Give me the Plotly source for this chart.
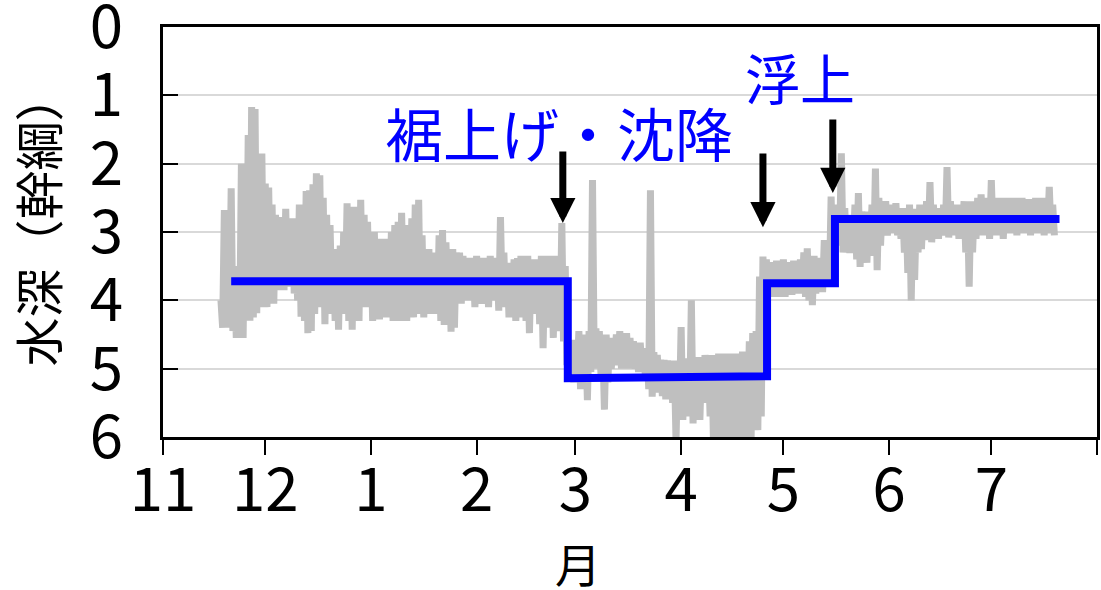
import pandas as pd
import plotly.graph_objects as go

# ---- data ----
season_start = "2023-11-01"
first_day = 17  # days after season start of first sample

# daily shallowest depth (upper envelope) and deepest depth (lower envelope)
depth_hi = [
    4.0, 2.68, 3.6, 2.36, 3.6, 3.5, 2.0, 2.4, 1.58, 1.17,
    1.2, 2.0, 1.85, 2.29, 2.35, 2.6, 2.75, 2.78, 2.95, 2.66,
    2.9, 2.8, 3.3, 2.6, 2.9, 2.4, 2.39, 2.3, 2.14, 2.17,
    2.5, 2.75, 2.9, 3.25, 3.26, 3.2, 3.0, 2.58, 2.8, 2.63,
    2.8, 2.53, 2.75, 2.85, 3.05, 3.0, 3.1, 3.28, 3.1, 3.15,
    3.0, 2.9, 2.85, 2.72, 2.9, 3.0, 2.8, 2.6, 2.53, 3.05,
    3.35, 3.25, 3.3, 3.3, 3.05, 2.97, 3.15, 3.3, 3.25, 3.3,
    3.3, 3.35, 3.4, 3.38, 3.4, 3.35, 3.4, 3.38, 3.4, 3.35,
    3.38, 3.4, 2.78, 3.3, 3.45, 3.5, 3.4, 3.38, 3.35, 3.4,
    3.35, 3.4, 3.45, 3.4, 3.35, 3.4, 3.35, 3.38, 3.35, 3.45,
    2.87, 3.5, 4.58, 4.6, 4.58, 4.45, 4.5, 4.55, 4.45, 2.24,
    4.41, 4.45, 4.6, 4.5, 4.55, 4.65, 4.5, 4.45, 4.5, 4.48,
    4.55, 4.6, 4.65, 4.62, 4.7, 4.75, 2.39, 4.76, 4.8, 4.87,
    4.87, 4.88, 4.9, 4.88, 4.9, 4.39, 4.85, 4.88, 4.0, 4.85,
    4.83, 4.85, 4.8, 4.82, 4.8, 4.85, 4.78, 4.8, 4.78, 4.8,
    4.78, 4.8, 4.78, 4.75, 4.78, 4.6, 4.48, 4.45, 3.65, 3.36,
    3.4, 3.44, 3.45, 3.42, 3.45, 3.4, 3.44, 3.46, 3.42, 3.45,
    3.4, 3.3, 3.24, 3.4, 3.35, 3.38, 3.4, 3.12, 3.3, 2.48,
    2.6, 2.7, 1.85, 2.65, 2.75, 2.8, 2.6, 2.43, 2.7, 2.75,
    2.7, 2.6, 2.07, 2.5, 2.6, 2.55, 2.65, 2.6, 2.58, 2.7,
    2.65, 2.7, 2.6, 2.66, 2.7, 2.6, 2.65, 2.55, 2.27, 2.6,
    2.68, 2.65, 2.6, 2.05, 2.55, 2.6, 2.63, 2.6, 2.55, 2.6,
    2.55, 2.6, 2.5, 2.45, 2.5, 2.55, 2.24, 2.5, 2.55, 2.5,
    2.55, 2.5, 2.55, 2.5, 2.55, 2.5, 2.55, 2.52, 2.55, 2.5,
    2.55, 2.5, 2.55, 2.34, 2.6,
]
depth_lo = [
    4.4, 4.4, 4.35, 4.45, 4.55, 4.5, 4.55, 4.2, 4.3, 4.25,
    4.19, 4.1, 4.0, 4.1, 3.9, 4.05, 3.8, 3.85, 3.85, 3.75,
    3.8, 3.9, 4.0, 4.24, 4.3, 4.48, 4.45, 4.2, 4.0, 4.1,
    4.35, 4.2, 3.95, 4.3, 4.43, 4.2, 3.95, 4.3, 4.43, 4.25,
    4.3, 3.95, 4.1, 3.9, 4.3, 3.95, 4.28, 3.9, 4.25, 3.95,
    4.3, 3.9, 4.3, 3.95, 4.3, 3.9, 4.25, 3.95, 4.2, 4.25,
    3.9, 4.2, 3.95, 4.2, 4.3, 4.36, 3.95, 4.46, 4.4, 3.95,
    4.05, 3.9, 4.0, 3.9, 4.1, 3.95, 4.05, 3.9, 4.1, 3.95,
    4.0, 4.15, 3.95, 4.1, 4.25, 3.95, 4.3, 4.25, 3.95, 4.3,
    4.48, 4.0, 4.2, 4.35, 4.7, 4.0, 4.4, 4.55, 4.0, 4.45,
    4.6, 4.95, 5.07, 5.2, 5.1, 5.3, 5.25, 5.46, 5.05, 4.9,
    5.0, 5.1, 5.6, 5.2, 5.0, 4.95, 4.95, 5.0, 4.95, 5.0,
    4.95, 5.0, 5.05, 5.0, 5.1, 5.3, 5.41, 5.35, 5.2, 5.4,
    5.45, 5.35, 5.5, 6.05, 5.6, 5.75, 5.7, 5.6, 5.8, 5.65,
    5.75, 5.5, 5.45, 5.7, 6.1, 6.2, 6.3, 6.1, 6.2, 6.0,
    6.3, 6.1, 6.2, 6.0, 5.9, 6.1, 5.85, 5.9, 5.7, 4.0,
    3.95, 3.95, 3.9, 3.95, 3.9, 3.95, 3.9, 3.92, 3.9, 3.85,
    3.9, 3.95, 4.0, 4.07, 3.9, 3.85, 3.88, 3.8, 3.75, 3.6,
    3.2, 3.15, 3.3, 3.25, 3.31, 3.2, 3.4, 3.51, 3.3, 3.45,
    3.2, 3.35, 3.56, 3.2, 3.0, 3.05, 3.0, 3.02, 3.05, 3.1,
    3.3, 3.6, 4.0, 3.7, 3.3, 3.25, 3.1, 3.12, 3.15, 3.05,
    3.1, 3.05, 3.02, 3.08, 3.05, 3.0, 3.1, 3.0, 3.3, 3.8,
    3.3, 3.1, 3.0, 3.05, 3.0, 3.1, 3.05, 3.0, 3.05, 3.1,
    3.0, 3.02, 3.0, 3.05, 3.0, 3.02, 3.0, 3.05, 3.0, 3.02,
    3.0, 3.05, 3.0, 3.02, 3.05,
]

# stepwise mean depth of the main line
step_dates = ["2023-11-21 00:00", "2024-02-27 18:00", "2024-02-27 18:00", "2024-04-26 05:00",
              "2024-04-26 05:00", "2024-05-16 03:00", "2024-05-16 03:00", "2024-07-21 00:00"]
step_depths = [3.72, 3.72, 5.14, 5.11, 3.75, 3.75, 2.81, 2.81]

# event arrows: date, tip depth, tail depth
arrow_dates = ["2024-02-26 07:00", "2024-04-25 00:00", "2024-05-15 12:00"]
arrow_tips = [2.87, 2.93, 2.43]
arrow_tails = [1.80, 1.83, 1.33]

# labels
label_texts = ["裾上げ・沈降", "浮上"]
label_dates = ["2024-02-25 06:00", "2024-05-06 00:00"]
label_depths = [1.53, 0.72]
label_sizes = [58, 55]

tick_dates = ["2023-11-01", "2023-12-01", "2024-01-01", "2024-02-01", "2024-03-01",
              "2024-04-01", "2024-05-01", "2024-06-01", "2024-07-01", "2024-08-01"]
tick_text = ["11", "12", "1", "2", "3", "4", "5", "6", "7", ""]
y_ticks = [0, 1, 2, 3, 4, 5, 6]

# ---- build series ----
base = pd.Timestamp(season_start)
times, depths = [], []
for i, (h, l) in enumerate(zip(depth_hi, depth_lo)):
    d = base + pd.Timedelta(days=first_day + i)
    times.append(d.strftime("%Y-%m-%d %H:%M"))
    depths.append(h)
    times.append((d + pd.Timedelta(hours=12)).strftime("%Y-%m-%d %H:%M"))
    depths.append(l)

FONT = "Noto Sans CJK JP"

fig = go.Figure()
fig.add_trace(go.Scatter(x=times, y=depths, mode="lines",
                         line=dict(color="#bfbfbf", width=7), hoverinfo="skip"))
fig.add_trace(go.Scatter(x=step_dates, y=step_depths, mode="lines",
                         line=dict(color="#0000ff", width=8)))

for d, t, a in zip(arrow_dates, arrow_tips, arrow_tails):
    fig.add_annotation(x=d, y=t, ax=d, ay=a, axref="x", ayref="y", xref="x", yref="y",
                       text="", showarrow=True, arrowhead=2, arrowwidth=7,
                       arrowsize=0.72, arrowcolor="black")

for txt, d, y, s in zip(label_texts, label_dates, label_depths, label_sizes):
    fig.add_annotation(x=d, y=y, xref="x", yref="y", text=txt, showarrow=False,
                       xanchor="center", yanchor="middle",
                       font=dict(family=FONT, size=s, color="#0000ff"))

fig.add_annotation(x=0.444, y=-0.305, xref="paper", yref="paper", text="月",
                   xanchor="center", yanchor="middle",
                   showarrow=False, font=dict(family=FONT, size=46, color="black"))
fig.add_annotation(x=-0.135, y=0.53, xref="paper", yref="paper", text="水深（幹綱）",
                   textangle=-90, showarrow=False, xanchor="center", yanchor="middle",
                   font=dict(family=FONT, size=49, color="black"))

fig.update_layout(
    width=1101, height=590,
    margin=dict(l=163, r=4, t=27, b=153),
    plot_bgcolor="white", paper_bgcolor="white",
    showlegend=False,
    font=dict(family=FONT, color="black"),
)
fig.update_xaxes(type="date", range=["2023-11-01", "2024-08-01"],
                 tickmode="array", tickvals=tick_dates, ticktext=tick_text,
                 ticks="outside", ticklen=15, tickwidth=2, tickcolor="black",
                 showline=True, linewidth=3, linecolor="black", mirror=True,
                 showgrid=False, zeroline=False, automargin=False,
                 tickfont=dict(family=FONT, size=60, color="black"),
                 ticklabelstandoff=-16, ticklabeloverflow="allow")
fig.update_yaxes(range=[6, 0], tickmode="array", tickvals=y_ticks,
                 ticks="inside", ticklen=15, tickwidth=2, tickcolor="black",
                 showline=True, linewidth=3, linecolor="black", mirror=True,
                 showgrid=True, gridcolor="#d9d9d9", gridwidth=2, zeroline=False,
                 automargin=False,
                 tickfont=dict(family=FONT, size=60, color="black"),
                 ticklabelstandoff=25, ticklabeloverflow="allow")

fig.write_html("out.html")
